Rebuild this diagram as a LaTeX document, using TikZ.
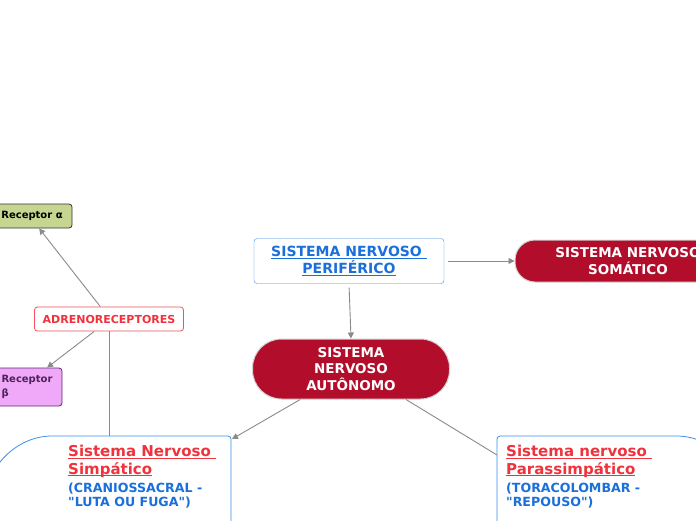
\documentclass[tikz,border=0pt]{standalone}
\usepackage{fontspec}
\setmainfont{DejaVu Sans}[Ligatures=TeXOff]
\usetikzlibrary{arrows.meta,positioning}
\definecolor{snred}{HTML}{B20D2B}
\definecolor{lnkblue}{HTML}{1A6FDB}
\definecolor{bordblue}{HTML}{3B8EE8}
\definecolor{ttlred}{HTML}{F0323C}
\definecolor{arrgray}{HTML}{8A8A8A}
\definecolor{alphagreen}{HTML}{C6D590}
\definecolor{betapink}{HTML}{F0A8F8}
\definecolor{betapurple}{HTML}{5B2C6F}
\newcommand{\ulin}[1]{\setbox0\hbox{#1}\rlap{\rule[-2.2pt]{\wd0}{0.9pt}}\box0}
\newcommand{\divtitle}[1]{\textcolor{ttlred}{\fontsize{15}{17}\selectfont\ulin{#1}}}

\begin{document}
\begin{tikzpicture}[x=1pt, y=-1pt,
  font=\bfseries,
  conn/.style={draw=arrgray, line width=0.9pt},
  arr/.style={conn, -{Triangle[length=6pt, width=6pt]}},
  pill/.style={fill=snred, draw=gray!35, line width=1pt, text=white, align=center,
    font=\bfseries\fontsize{13.5}{16.5}\selectfont},
  linkbox/.style={fill=white, draw=bordblue, rounded corners=3pt, align=center,
    text=lnkblue, font=\bfseries\fontsize{14}{17}\selectfont},
  recbox/.style={rounded corners=3pt, line width=0.8pt, align=left,
    font=\bfseries\fontsize{10}{13.5}\selectfont},
  bigbox/.style={draw=bordblue, fill=white, line width=0.8pt, rounded corners=3pt},
  subtxt/.style={anchor=base west, align=left, inner sep=0pt,
    font=\bfseries\fontsize{12.6}{14}\selectfont, text=lnkblue},
]
\useasboundingbox (0,0) rectangle (696,520);
\clip (0,0) rectangle (696,520);

% ---- peripheral system and its two branches ----
\node[linkbox, minimum width=190pt, minimum height=45pt] (perif) at (349,261)
  {\ulin{SISTEMA NERVOSO }\\\ulin{PERIFÉRICO}};
\node[pill, rounded corners=20pt, minimum width=226pt, minimum height=42pt] (somat) at (628,261)
  {SISTEMA NERVOSO\\SOMÁTICO};
\node[pill, rounded corners=29pt, minimum width=197pt, minimum height=60pt] (auton) at (351,369)
  {SISTEMA\\NERVOSO\\AUTÔNOMO};

% ---- the two autonomic divisions (boxes run past the page) ----
\coordinate (simpNE) at (231,436);
\coordinate (parasNW) at (497,436);
\draw[bigbox] (231,560) -- (simpNE) -- (55,436)
  .. controls (16.6,436) and (-14.5,467.1) .. (-14.5,505.5) -- (-14.5,560);
\draw[bigbox] (497,560) -- (parasNW) -- (673.5,436)
  .. controls (711.9,436) and (743,467.1) .. (743,505.5) -- (743,560);
\node[subtxt] (simp) at (68,506)
  {\divtitle{Sistema Nervoso }\\[2pt]
   \divtitle{Simpático}\\[4pt]
   (CRANIOSSACRAL -\\"LUTA OU FUGA")};
\node[subtxt] (paras) at (506,506)
  {\divtitle{Sistema nervoso }\\[2pt]
   \divtitle{Parassimpático}\\[4pt]
   (TORACOLOMBAR -\\"REPOUSO")};

% ---- adrenoreceptors ----
\node[fill=white, draw=ttlred!85, rounded corners=3pt, line width=0.8pt, text=ttlred,
  font=\bfseries\fontsize{11}{13}\selectfont, minimum width=149pt, minimum height=24pt]
  (adreno) at (109,319) {ADRENORECEPTORES};
\node[recbox, fill=alphagreen, draw=black!80, minimum width=80pt, minimum height=24pt]
  (ralpha) at (32,216) {Receptor α};
\node[recbox, fill=betapink, draw=betapurple, text=betapurple!80!black, minimum width=70pt,
  minimum height=38pt] (rbeta) at (27,387) {Receptor\\β};

% ---- connectors ----
\draw[arr, shorten <=4pt] (perif.south) -- (auton.north);
\draw[arr, shorten <=4pt] (perif.east) -- (somat.west);
\draw[arr] (auton.211) -- (232,439);
\draw[conn] (auton.-29) -- (parasNW |- 0,455);
\draw[arr] (adreno.125) -- (ralpha.-60);
\draw[arr] (adreno.220) -- (rbeta.44);
\draw[conn] (adreno.south) -- (adreno.south |- simpNE);
\end{tikzpicture}
\end{document}
